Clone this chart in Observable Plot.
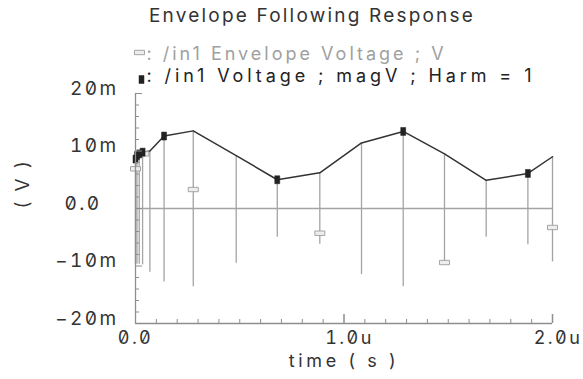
<!DOCTYPE html>
<html><head><meta charset="utf-8">
<script src="https://cdn.jsdelivr.net/npm/d3@7"></script>
<script src="https://cdn.jsdelivr.net/npm/@observablehq/plot@0.6"></script>
<style>
html,body{margin:0;padding:0;background:#fff;}
svg text{letter-spacing:2.4px;font-feature-settings:"zero" 1;}
text[aria-label="title"]{letter-spacing:2.2px;}
text[aria-label="legend1"]{letter-spacing:3px;}
text[aria-label="legend2"]{letter-spacing:3.9px;}
text[aria-label="xlabel"]{letter-spacing:3.6px;}
</style></head><body><div id="chart"></div>
<script>
// time in microseconds, voltages in millivolts
const times  = [0, 0.007, 0.018, 0.034, 0.069, 0.137, 0.277, 0.483, 0.680, 0.884, 1.084, 1.284, 1.482, 1.682, 1.882, 2.0];
const magV   = [8.6, 9.2, 9.5, 9.8, 10.0, 12.6, 13.5, 9.2, 5.0, 6.2, 11.4, 13.4, 9.5, 4.9, 6.1, 9.0];
const envHi  = [8.6, 9.2, 9.5, 9.8, 10.0, 12.6, 13.5, 9.2, 5.0, 6.2, 11.4, 13.4, 9.5, 4.9, 6.1, 9.0];
const envLo  = [-9.7, -9.7, -9.7, -9.8, -11.1, -12.8, -13.6, -9.5, -5.0, -6.2, -11.5, -13.6, -9.4, -5.0, -6.3, -9.3];
const grayMarkT  = [0, 0.04, 0.277, 0.884, 1.482, 2.0];
const grayMarkV  = [6.9, 9.5, 3.3, -4.3, -9.4, -3.3];
const blackMarkT = [0, 0.007, 0.018, 0.034, 0.137, 0.680, 1.284, 1.882];
const blackMarkV = [8.6, 9.2, 9.5, 9.8, 12.6, 5.0, 13.4, 6.1];
const yTicks = [-20, -10, 10, 20];
const yTickLabels = ["−20m", "−10m", "10m", "20m"];
const yZero = [0];
const yZeroLabel = "0.0";
const yMajor = [-20, -10, 0, 10, 20];
const yMinor = [-18, -16, -14, -12, -8, -6, -4, -2, 2, 4, 6, 8, 12, 14, 16, 18];
const xTicks = [1, 2];
const xTickLabels = ["1.0u", "2.0u"];
const xZeroLabel = "0.0";
const xMajor = [1, 2];
const xMinor = [0.1, 0.2, 0.3, 0.4, 0.5, 0.6, 0.7, 0.8, 0.9, 1.1, 1.2, 1.3, 1.4, 1.5, 1.6, 1.7, 1.8, 1.9];
const title = "Envelope Following Response";
const legend1 = ": /in1 Envelope Voltage ; V";
const legend2 = ": /in1 Voltage ; magV ; Harm = 1";
const yLabel = "( V )";
const xLabel = "time ( s )";

const env = times.map((t, i) => ({t, mag: magV[i], hi: envHi[i], lo: envLo[i]}));
const grayMarks = grayMarkT.map((t, i) => ({t, v: grayMarkV[i]}));
const blackMarks = blackMarkT.map((t, i) => ({t, v: blackMarkV[i]}));

const vRect = {draw(ctx) { ctx.rect(-2.5, -4, 5, 8); }};
const hRect = {draw(ctx) { ctx.rect(-5, -2.2, 10, 4.4); }};

const W = 583, H = 379, ML = 135, MR = 31, MT = 93, MB = 56;
const fw = W - ML - MR, fh = H - MT - MB;
const gray = "#a4a4a4", axisGray = "#8e8e8e", ink = "#333";
const FS = 19, FL = 18;

const chart = Plot.plot({
  width: W, height: H,
  marginLeft: ML, marginRight: MR, marginTop: MT, marginBottom: MB,
  x: {domain: [0, 2]},
  y: {domain: [-20, 20]},
  style: {fontFamily: "Inter, 'DejaVu Sans', sans-serif", background: "#fff"},
  marks: [
    Plot.ruleY([0], {stroke: gray, strokeWidth: 1.3}),
    Plot.ruleX(env, {x: "t", y1: "lo", y2: "hi", stroke: gray, strokeWidth: 1.3}),
    Plot.line(env, {x: "t", y: "mag", stroke: ink, strokeWidth: 1.5}),
    Plot.dot(grayMarks, {x: "t", y: "v", symbol: hRect, stroke: gray, fill: "#eee", strokeWidth: 1}),
    Plot.dot(blackMarks, {x: "t", y: "v", symbol: vRect, fill: "#222", stroke: "#222", strokeWidth: 0.5}),
    Plot.ruleX([0], {stroke: axisGray, strokeWidth: 1.3}),
    Plot.ruleY([-20], {stroke: axisGray, strokeWidth: 1.3}),
    Plot.tickY(yMinor, {y: d => d, stroke: axisGray, insetRight: fw - 4}),
    Plot.tickY(yMajor, {y: d => d, stroke: axisGray, insetRight: fw - 7}),
    Plot.tickX(xMinor, {x: d => d, stroke: axisGray, insetTop: fh - 4}),
    Plot.tickX(xMajor, {x: d => d, stroke: axisGray, strokeWidth: 1.5, insetTop: fh - 9}),
    Plot.axisY(yTicks, {tickFormat: d => yTickLabels[yTicks.indexOf(d)], tickSize: 0, tickPadding: 17, dy: -5, fontSize: FS, color: ink, label: null}),
    Plot.axisY(yZero, {tickFormat: () => yZeroLabel, tickSize: 0, tickPadding: 34, dy: -5, fontSize: FS, color: ink, label: null}),
    Plot.axisX(xTicks, {tickFormat: d => xTickLabels[xTicks.indexOf(d)], tickSize: 0, tickPadding: 8, dx: 5.5, fontSize: FL, color: ink, label: null}),
    Plot.axisX([0], {tickFormat: () => xZeroLabel, tickSize: 0, tickPadding: 8, fontSize: FL, color: ink, label: null}),
    Plot.text([yLabel], {frameAnchor: "left", lineAnchor: "middle", dx: -113, rotate: -90, fontSize: FS, fill: ink}),
    Plot.text([xLabel], {ariaLabel: () => "xlabel", frameAnchor: "bottom", lineAnchor: "middle", dy: 38, fontSize: FL, fill: ink}),
    Plot.text([title], {ariaLabel: () => "title", frameAnchor: "top", lineAnchor: "middle", dx: -32, dy: -78, fontSize: FS, fill: ink}),
    Plot.dot([legend1], {frameAnchor: "top-left", dx: 4, dy: -41, symbol: hRect, stroke: gray, fill: "#eee", strokeWidth: 1}),
    Plot.text([legend1], {ariaLabel: () => "legend1", frameAnchor: "top-left", lineAnchor: "middle", dx: 11, dy: -39, textAnchor: "start", fontSize: FL, fill: "#a0a0a0"}),
    Plot.dot([legend2], {frameAnchor: "top-left", dx: 6, dy: -14, symbol: vRect, fill: "#222", stroke: "#222", strokeWidth: 0.5}),
    Plot.text([legend2], {ariaLabel: () => "legend2", frameAnchor: "top-left", lineAnchor: "middle", dx: 11, dy: -17, textAnchor: "start", fontSize: FL, fill: "#222"})
  ]
});
document.getElementById("chart").append(chart);
</script></body></html>
